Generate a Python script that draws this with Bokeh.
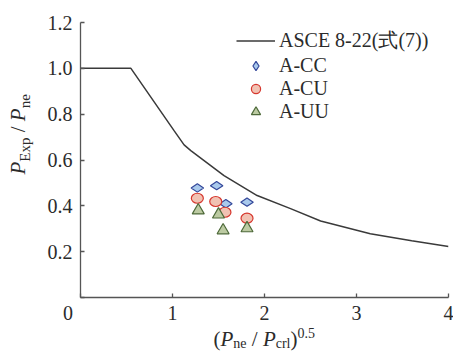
from math import pi
from bokeh.plotting import figure
from bokeh.models import Label, Legend, LegendItem, FixedTicker, Range1d
from bokeh.layouts import column, row
from bokeh.embed import file_html
from bokeh.resources import INLINE

# ---- data ----
curve_x = [0.0, 0.548, 1.017, 1.126, 1.199, 1.56, 1.92, 2.283, 2.61, 3.15, 3.6, 4.0]
curve_y = [1.0, 1.0, 0.728, 0.666, 0.641, 0.532, 0.445, 0.388, 0.334, 0.278, 0.248, 0.2225]

cc_x = [1.27, 1.48, 1.58, 1.81]
cc_y = [0.478, 0.488, 0.409, 0.416]
cu_x = [1.27, 1.47, 1.57, 1.81]
cu_y = [0.433, 0.419, 0.372, 0.346]
uu_x = [1.28, 1.50, 1.55, 1.81]
uu_y = [0.380, 0.362, 0.293, 0.302]

x_ticks = [0, 1, 2, 3, 4]
x_tick_labels = ["0" + "\u00a0" * 5, "1", "2", "3", "4"]
y_ticks = [0, 0.2, 0.4, 0.6, 0.8, 1.0, 1.2]
y_tick_labels = ["", "0.2", "0.4", "0.6", "0.8", "1.0", "1.2"]
legend_labels = ["ASCE 8-22(式(7))", "A-CC", "A-CU", "A-UU"]

FONT = "Liberation Serif"
TXT = "#2b2b2b"
AX = "#555555"

W, H = 453, 351
YT_W = 40          # width of the strip that holds the y title
XT_H = 24          # height of the strip that holds the x title
MW, MH = W - YT_W, H - XT_H
LEFT, RIGHT, TOP, BOTTOM = 40, 5, 22, 30

p = figure(width=MW, height=MH, output_backend="svg", toolbar_location=None,
           title=None, x_range=Range1d(0, 4), y_range=Range1d(0, 1.2),
           min_border_left=LEFT, min_border_right=RIGHT,
           min_border_top=TOP, min_border_bottom=BOTTOM,
           background_fill_color="white", border_fill_color="white")
p.outline_line_color = None
p.grid.visible = False

for ax, ticks, labels, standoff in ((p.xaxis, x_ticks, x_tick_labels, 4),
                                    (p.yaxis, y_ticks, y_tick_labels, 8)):
    ax.ticker = FixedTicker(ticks=ticks)
    ax.major_label_overrides = dict(zip(ticks, labels))
    ax.major_label_text_font = FONT
    ax.major_label_text_font_size = "20px"
    ax.major_label_text_color = TXT
    ax.major_label_standoff = standoff
    ax.axis_line_color = AX
    ax.axis_line_width = 1.3
    ax.major_tick_line_color = AX
    ax.major_tick_line_width = 1.3
    ax.major_tick_in = 4
    ax.major_tick_out = 0
    ax.minor_tick_line_color = None

# ---- glyphs ----
r_line = p.line(curve_x, curve_y, line_color="#3a3a3a", line_width=1.5)
r_cc = p.scatter(cc_x, cc_y, marker="diamond", size=12.5, angle=pi / 2,
                 fill_color="#a9c9ec", line_color="#34489a", line_width=1.2)
# circle under each ellipse: gives the legend its round swatch
r_cu_leg = p.scatter(cu_x, cu_y, marker="circle", size=8,
                     fill_color="#f1c2b3", line_color="#d6372e", line_width=1.2)
r_cu = p.ellipse(cu_x, cu_y, width=12, height=10, width_units="screen",
                 height_units="screen", fill_color="#f1c2b3",
                 line_color="#d6372e", line_width=1.2)
r_uu = p.scatter(uu_x, uu_y, marker="triangle", size=12,
                 fill_color="#bccaa2", line_color="#4e6a3a", line_width=1.2)

legend = Legend(items=[LegendItem(label=legend_labels[0], renderers=[r_line]),
                       LegendItem(label=legend_labels[1], renderers=[r_cc]),
                       LegendItem(label=legend_labels[2], renderers=[r_cu_leg]),
                       LegendItem(label=legend_labels[3], renderers=[r_uu])],
                location=(156, 174), margin=0, padding=0, spacing=0,
                glyph_width=39, glyph_height=23, label_height=23,
                label_standoff=4, label_text_font=FONT,
                label_text_font_size="20px", label_text_color=TXT,
                background_fill_alpha=0, border_line_color=None)
p.add_layout(legend, "center")


# ---- title strips: small figures whose frame is the whole strip ----
def strip(w, h):
    f = figure(width=w, height=h, output_backend="svg", toolbar_location=None,
               title=None, x_axis_location=None, y_axis_location=None,
               x_range=Range1d(0, w), y_range=Range1d(0, h),
               min_border=0, background_fill_color="white",
               border_fill_color="white")
    f.outline_line_color = None
    f.grid.visible = False
    return f


adv = {"(": .333, ")": .333, "P": .611, "/": .278, " ": .25, "n": .5, "e": .444,
       "c": .444, "r": .333, "l": .278, "0": .5, ".": .25, "5": .5, "E": .611,
       "x": .5, "p": .5}


def width(t, s):
    return sum(adv[c] for c in t) * s


SHIFT = 0.32   # measured drop of the drawn baseline below the anchor, in em


def piece(f, X, Y, text, size, italic=False, angle=0.0):
    # X, Y: wanted baseline start in the strip, from its top-left corner
    if angle:
        X -= SHIFT * size
    else:
        Y -= SHIFT * size
    f.add_layout(Label(x=X, y=f.height - Y, x_units="screen", y_units="screen",
                       text=text, text_font=FONT, text_font_size=f"{size}px",
                       text_font_style="italic" if italic else "normal",
                       text_color=TXT, text_align="left",
                       text_baseline="alphabetic", angle=angle))


MAIN, SUB = 21, 14

# x-axis title: (P_ne / P_crl)^0.5
xt_fig = strip(W, XT_H)
base = 345 - MH
xt = [("(", MAIN, False, 0), ("P", MAIN, True, 0), ("ne", SUB, False, 2.5),
      (" / ", MAIN, False, 0), ("P", MAIN, True, 0), ("crl", SUB, False, 2.5),
      (")", MAIN, False, 0), ("0.5", SUB, False, -8)]
X = 213.0
for t, s, it, dy in xt:
    lead = width(t[:len(t) - len(t.lstrip())], s)
    piece(xt_fig, X + lead, base + dy, t.strip(), s, it)
    X += width(t, s)

# y-axis title: P_Exp / P_ne (rotated)
YSUB = 15
yt_fig = strip(YT_W, MH)
yt = [("P", MAIN, True, 0), ("Exp", YSUB, False, 5), (" / ", MAIN, False, 0),
      ("P", MAIN, True, 0), ("ne", YSUB, False, 5)]
Y = 204.0
bx = 24.5
for t, s, it, dx in yt:
    lead = width(t[:len(t) - len(t.lstrip())], s)
    piece(yt_fig, bx + dx, Y - lead, t.strip(), s, it, angle=pi / 2)
    Y -= width(t, s)

layout = column(row(yt_fig, p, spacing=0), xt_fig, spacing=0)
open("out.html", "w").write(file_html(layout, INLINE))
